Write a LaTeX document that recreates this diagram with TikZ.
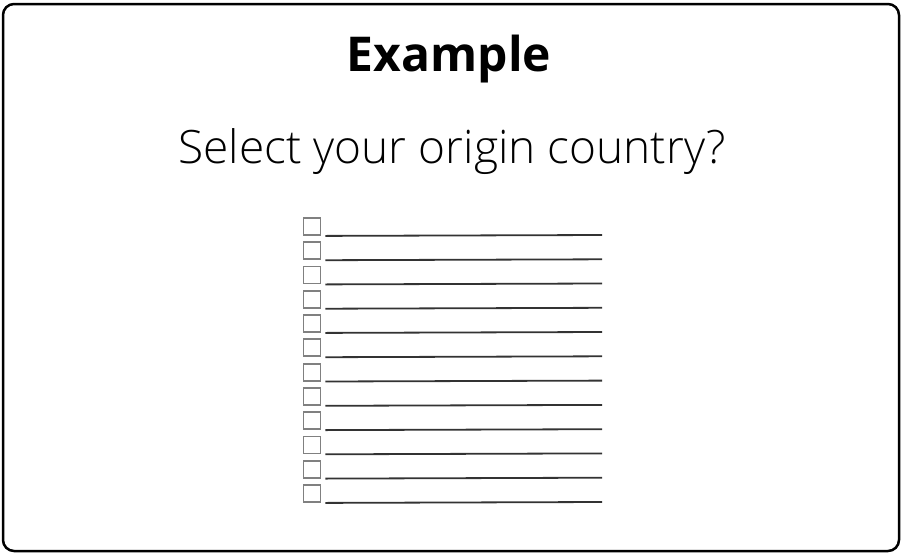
\documentclass[tikz,border=0pt]{standalone}
\usepackage{fontspec}
\setmainfont{Open Sans}
\newfontfamily\thinfont{Open Sans Light}
\usepackage{tikz}
\usetikzlibrary{positioning}

\begin{document}
\begin{tikzpicture}
	[x=1pt,y=-1pt,every node/.style={inner sep=0pt}]
	\tikzstyle{tick} = [draw=black!50, line width=1.8pt, minimum width=17pt, minimum height=17pt];
	\tikzstyle{answer} = [draw=black!80, line width=1.8pt];
	
	\useasboundingbox (0,0) rectangle (903,555);
	\draw[line width=2.5pt, rounded corners=11pt] (3,4) rectangle (899,551);
	
	\node[font=\fontsize{48}{50}\selectfont\bfseries] (title) at (449,59) {Example};
	\node[font=\thinfont\fontsize{46}{48}\selectfont] (question) at (452,152) {Select your origin country?};
	
	\node[tick] (b1) at (312,226.5) {};
	\node[tick] (b2) at (312,250.8) {};
	\node[tick] (b3) at (312,275.0) {};
	\node[tick] (b4) at (312,299.3) {};
	\node[tick] (b5) at (312,323.5) {};
	\node[tick] (b6) at (312,347.8) {};
	\node[tick] (b7) at (312,372.1) {};
	\node[tick] (b8) at (312,396.4) {};
	\node[tick] (b9) at (312,420.7) {};
	\node[tick] (b10) at (312,444.9) {};
	\node[tick] (b11) at (312,469.2) {};
	\node[tick] (b12) at (312,493.5) {};
	
	\coordinate (e1) at (602,235);
	\coordinate (e2) at (602,259.3);
	\coordinate (e3) at (602,283.5);
	\coordinate (e4) at (602,307.8);
	\coordinate (e5) at (602,332);
	\coordinate (e6) at (602,356.3);
	\coordinate (e7) at (602,380.6);
	\coordinate (e8) at (602,404.9);
	\coordinate (e9) at (602,429.2);
	\coordinate (e10) at (602,453.4);
	\coordinate (e11) at (602,477.7);
	\coordinate (e12) at (602,502);
	
	\draw[answer] ([xshift=4pt]b1.south east) -- (e1);
	\draw[answer] ([xshift=4pt]b2.south east) -- (e2);
	\draw[answer] ([xshift=4pt]b3.south east) -- (e3);
	\draw[answer] ([xshift=4pt]b4.south east) -- (e4);
	\draw[answer] ([xshift=4pt]b5.south east) -- (e5);
	\draw[answer] ([xshift=4pt]b6.south east) -- (e6);
	\draw[answer] ([xshift=4pt]b7.south east) -- (e7);
	\draw[answer] ([xshift=4pt]b8.south east) -- (e8);
	\draw[answer] ([xshift=4pt]b9.south east) -- (e9);
	\draw[answer] ([xshift=4pt]b10.south east) -- (e10);
	\draw[answer] ([xshift=4pt]b11.south east) -- (e11);
	\draw[answer] ([xshift=4pt]b12.south east) -- (e12);
\end{tikzpicture}
\end{document}
